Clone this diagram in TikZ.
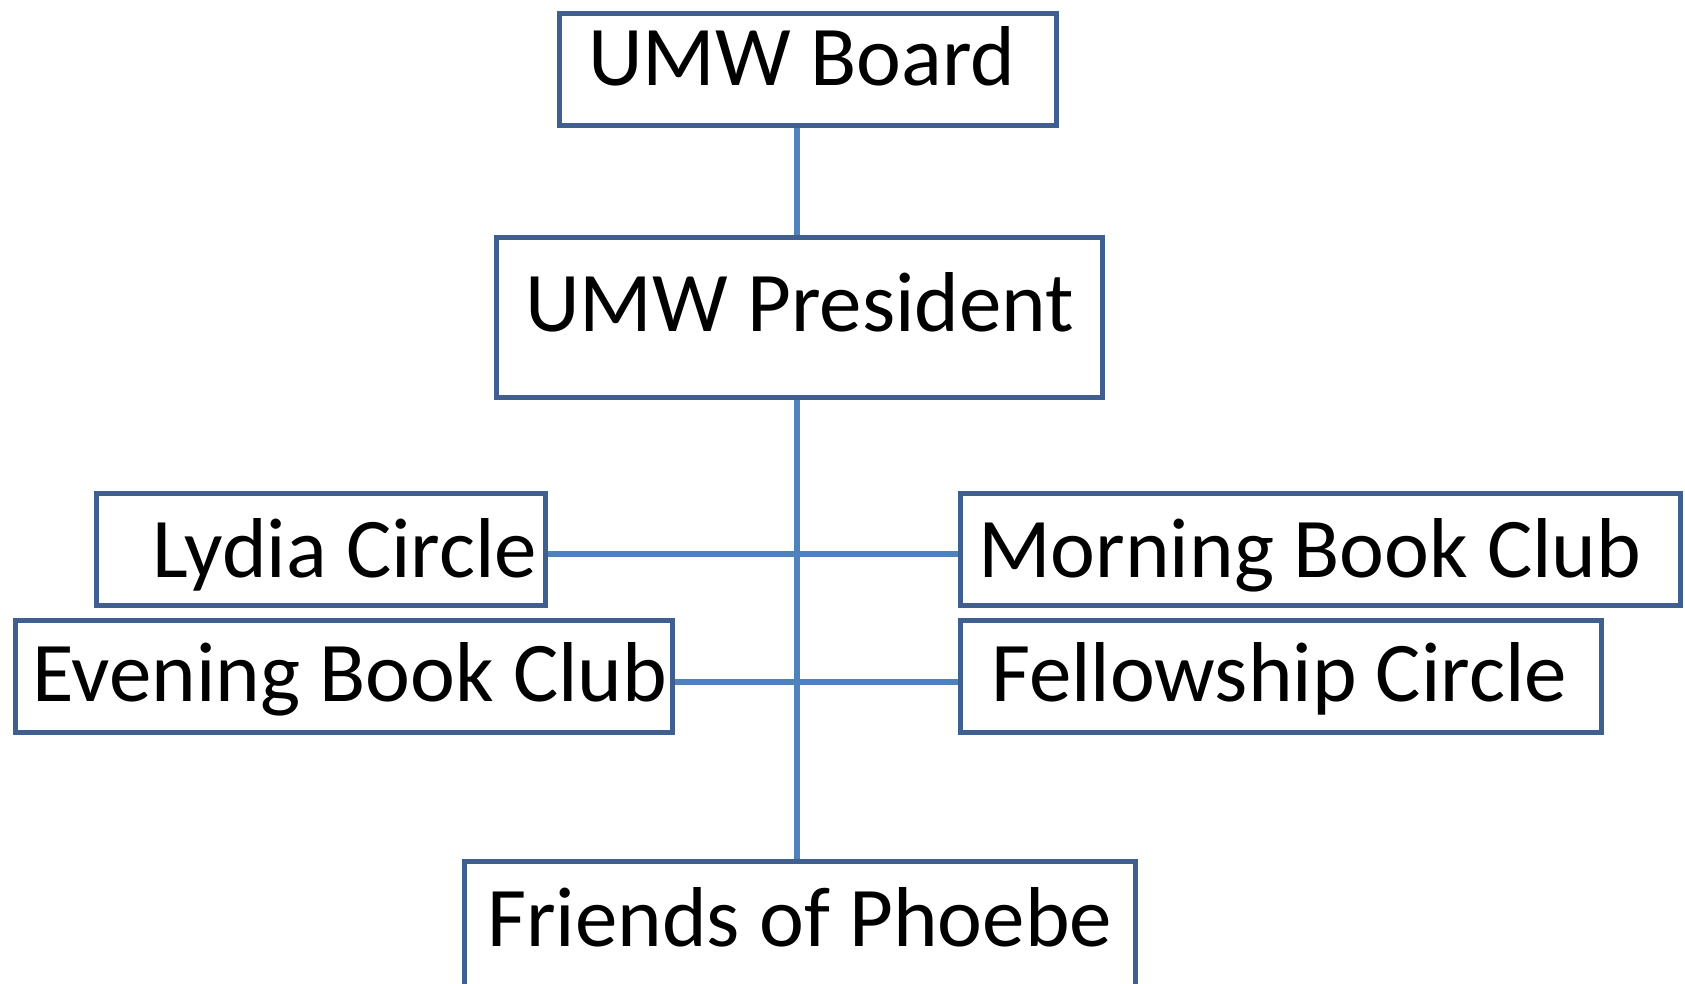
\documentclass[tikz,border=0pt]{standalone}
\usepackage{fontspec}
\setmainfont{Carlito}
\definecolor{boxblue}{HTML}{3E5F8F}
\definecolor{lineblue}{HTML}{4F81BD}
\tikzset{
  orgbox/.style={draw=boxblue, line width=5pt, fill=white, rectangle, inner sep=0pt, anchor=north west},
  orgtext/.style={font=\fontsize{85}{100}\selectfont, anchor=base west, inner sep=0pt, text=black},
  link/.style={draw=lineblue, line width=5.5pt}
}
\begin{document}
\begin{tikzpicture}[x=1pt,y=-1pt]
\useasboundingbox (0,0) rectangle (1685,984);
\coordinate (j1) at (797,554);
\coordinate (j2) at (797,682);
% boxes
\node[orgbox, minimum width=497pt, minimum height=112pt] (board) at (557,11) {};
\node[orgbox, minimum width=606pt, minimum height=160pt] (pres) at (494,235) {};
\node[orgbox, minimum width=449pt, minimum height=112pt] (lydia) at (94,491) {};
\node[orgbox, minimum width=720pt, minimum height=112pt] (morning) at (958,491) {};
\node[orgbox, minimum width=657pt, minimum height=112pt] (evening) at (13,618) {};
\node[orgbox, minimum width=641pt, minimum height=112pt] (fellow) at (958,618) {};
\node[orgbox, minimum width=671pt, minimum height=160pt] (friends) at (462,859) {};
% links
\draw[link] (pres.north -| j1) -- (board.south -| j1);
\draw[link] (pres.south -| j1) -- (friends.north -| j1);
\draw[link] (lydia.east |- j1) -- (morning.west |- j1);
\draw[link] (evening.east |- j2) -- (fellow.west |- j2);
% texts
\node[orgtext] (tboard) at (588,86) {UMW Board};
\node[orgtext] (tpres) at (525,331) {UMW President};
\node[orgtext] (tlydia) at (152,577) {Lydia Circle};
\node[orgtext] (tmorning) at (978,577) {Morning Book Club};
\node[orgtext] (tevening) at (32,701) {Evening Book Club};
\node[orgtext] (tfellow) at (991,701) {Fellowship Circle};
\node[orgtext] (tfriends) at (487,946) {Friends of Phoebe};
\end{tikzpicture}
\end{document}
